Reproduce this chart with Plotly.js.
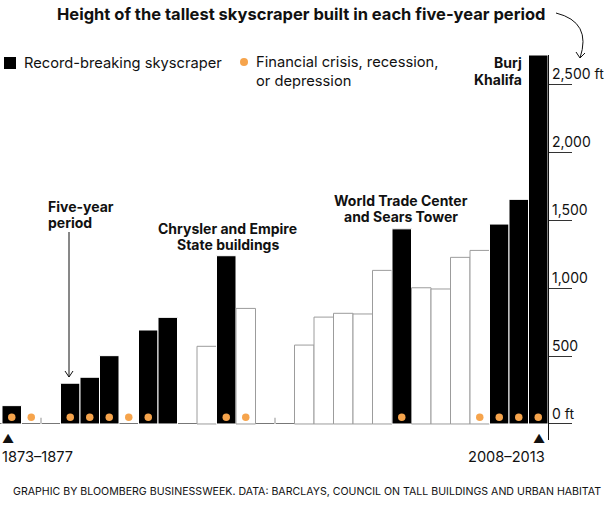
<!DOCTYPE html>
<html>
<head>
<meta charset="utf-8">
<script src="https://cdn.plot.ly/plotly-3.0.1.min.js"></script>
<style>
  html, body { margin: 0; padding: 0; background: #fff; }
  #chart { width: 605px; height: 520px; }
</style>
</head>
<body>
<div id="chart"></div>
<script>
// ---------------- DATA ----------------
const periods = [
  '1873–1877','1878–1882','1883–1887','1888–1892','1893–1897','1898–1902','1903–1907',
  '1908–1912','1913–1917','1918–1922','1923–1927','1928–1932','1933–1937','1938–1942',
  '1943–1947','1948–1952','1953–1957','1958–1962','1963–1967','1968–1972','1973–1977',
  '1978–1982','1983–1987','1988–1992','1993–1997','1998–2002','2003–2007','2008–2013'
];
// tallest skyscraper built in each period, feet (null = none)
const heightFt = [
  135, null, null, 300, 344, 503, null,
  692, 785, null, 572, 1239, 851, null,
  null, 581, 787, 815, 810, 1131, 1437,
  1003, 994, 1227, 1278, 1472, 1654, 2717
];
// 1 = record-breaking skyscraper
const recordBreaking = [
  1, 0, 0, 1, 1, 1, 0,
  1, 1, 0, 0, 1, 0, 0,
  0, 0, 0, 0, 0, 0, 1,
  0, 0, 0, 0, 1, 1, 1
];
// 1 = financial crisis, recession or depression in the period
const financialCrisis = [
  1, 1, 0, 1, 1, 1, 1,
  1, 0, 0, 0, 1, 1, 0,
  0, 0, 0, 0, 0, 0, 1,
  0, 0, 0, 1, 1, 1, 1
];
// small gap markers drawn after these periods
const gapMarkAfter = ['1878–1882', '1938–1942'];
const gapMarkHeightFt = 45;
const crisisDotLevelFt = 50;
const yTickVals = [0, 500, 1000, 1500, 2000, 2500];
const yTickText = ['0 ft', '500', '1,000', '1,500', '2,000', '2,500 ft'];

const titleText = 'Height of the tallest skyscraper built in each five-year period';
const legendRecord = 'Record-breaking skyscraper';
const legendCrisis = ['Financial crisis, recession,', 'or depression'];
const sourceText = 'GRAPHIC BY BLOOMBERG BUSINESSWEEK. DATA: BARCLAYS, COUNCIL ON TALL BUILDINGS AND URBAN HABITAT';

// ---------------- LAYOUT HELPERS ----------------
const W = 605, H = 520;
const M = { l: 0, r: 57, t: 55, b: 80 };
const PW = W - M.l - M.r, PH = H - M.t - M.b;
const px = x => (x - M.l) / PW;          // pixel x -> paper
const py = y => (H - M.b - y) / PH;      // pixel y -> paper

const FONT = 'Inter, "Liberation Sans", Arial, sans-serif';
const ORANGE = '#f6a44c';

const idx = periods.map((_, i) => i);

const barTrace = {
  type: 'bar',
  x: idx,
  y: heightFt,
  width: 1,
  marker: {
    color: recordBreaking.map(r => r ? '#000000' : '#ffffff'),
    line: { color: recordBreaking.map(r => r ? '#ffffff' : '#9c9c9c'), width: 1 }
  },
  hoverinfo: 'skip',
  showlegend: false
};

const crisisIdx = idx.filter(i => financialCrisis[i]);
const dotTrace = {
  type: 'scatter',
  mode: 'markers',
  x: crisisIdx,
  y: crisisIdx.map(() => crisisDotLevelFt),
  marker: { color: ORANGE, size: 7.5, line: { width: 0 } },
  hoverinfo: 'skip',
  showlegend: false
};

const gx = [], gy = [];
gapMarkAfter.forEach(p => {
  const i = periods.indexOf(p) + 0.5;
  gx.push(i, i, null);
  gy.push(0, gapMarkHeightFt, null);
});
const gapTrace = {
  type: 'scatter', mode: 'lines', x: gx, y: gy,
  line: { color: '#c8c8c8', width: 2 },
  hoverinfo: 'skip', showlegend: false
};

const ann = [];
const txt = (text, x, y, size, bold, anchor, align) => ann.push({
  text: bold ? '<b>' + text + '</b>' : text,
  xref: 'paper', yref: 'paper', x: px(x), y: py(y),
  xanchor: anchor || 'left', yanchor: 'middle', align: align || anchor || 'left',
  showarrow: false,
  font: { family: FONT, size: size, color: '#111' }
});

txt(titleText, 55, 14, 16.5, true, 'left');
txt(legendRecord, 22, 63, 14.7, false, 'left');
txt(legendCrisis.join('<br>'), 254, 71.5, 14.7, false, 'left', 'left');

txt('Five-year', 46, 206, 14, true, 'left');
txt('period', 46, 222, 14, true, 'left');
txt('Chrysler and Empire', 227.5, 228, 14, true, 'center');
txt('State buildings', 227.5, 244, 14, true, 'center');
txt('World Trade Center', 401, 200, 14, true, 'center');
txt('and Sears Tower', 401, 216, 14, true, 'center');
txt('Burj', 524, 62, 14, true, 'right');
txt('Khalifa', 524, 79, 14, true, 'right');

txt('▲', 0, 438, 12, false, 'left');
txt(periods[0], 0, 457, 14.6, false, 'left');
txt('▲', 547, 438, 12, false, 'right');
txt(periods[periods.length - 1], 547, 457, 14.6, false, 'right');

txt(sourceText, 11, 491, 10.6, false, 'left');

// y tick labels (above their tick lines)
yTickVals.forEach((v, k) => ann.push({
  text: yTickText[k], xref: 'paper', yref: 'y', x: 1, y: v,
  xanchor: 'left', yanchor: 'bottom', xshift: 2, yshift: 0, showarrow: false,
  font: { family: FONT, size: 14, color: '#111' }
}));

const shapes = [
  // legend square
  { type: 'rect', xref: 'paper', yref: 'paper', x0: px(4), x1: px(16), y0: py(57), y1: py(69),
    fillcolor: '#000', line: { width: 0 } },
  // legend dot
  { type: 'circle', xref: 'paper', yref: 'paper', x0: px(240), x1: px(248), y0: py(58), y1: py(66),
    fillcolor: ORANGE, line: { width: 0 } },
  // five-year period arrow line
  { type: 'path', xref: 'paper', yref: 'paper',
    path: `M ${px(69)} ${py(232)} L ${px(69)} ${py(377)} M ${px(65)} ${py(371)} L ${px(69)} ${py(377)} L ${px(73)} ${py(371)}`,
    line: { color: '#111', width: 1 } },
  // curved arrow from title to the axis
  { type: 'path', xref: 'paper', yref: 'paper',
    path: `M ${px(556)} ${py(13)} Q ${px(592)} ${py(22)} ${px(580)} ${py(58)}`,
    line: { color: '#111', width: 1 } },
  { type: 'path', xref: 'paper', yref: 'paper',
    path: `M ${px(576)} ${py(52)} L ${px(580)} ${py(58)} L ${px(585)} ${py(53)}`,
    line: { color: '#111', width: 1 } }
];

const layout = {
  width: W, height: H,
  margin: M,
  paper_bgcolor: '#fff', plot_bgcolor: '#fff',
  showlegend: false,
  bargap: 0,
  xaxis: { visible: false, range: [-0.6026, 27.5], fixedrange: true },
  yaxis: {
    side: 'right', range: [-118, 2717], showgrid: false,
    showline: true, linecolor: '#111', linewidth: 1,
    ticks: 'outside', ticklen: 23, tickwidth: 1, tickcolor: '#333',
    tickvals: yTickVals, showticklabels: false,
    zeroline: true, zerolinecolor: '#777', zerolinewidth: 1,
    fixedrange: true
  },
  annotations: ann,
  shapes: shapes
};

Plotly.newPlot('chart', [barTrace, gapTrace, dotTrace], layout, { displayModeBar: false, staticPlot: true });
</script>
</body>
</html>
